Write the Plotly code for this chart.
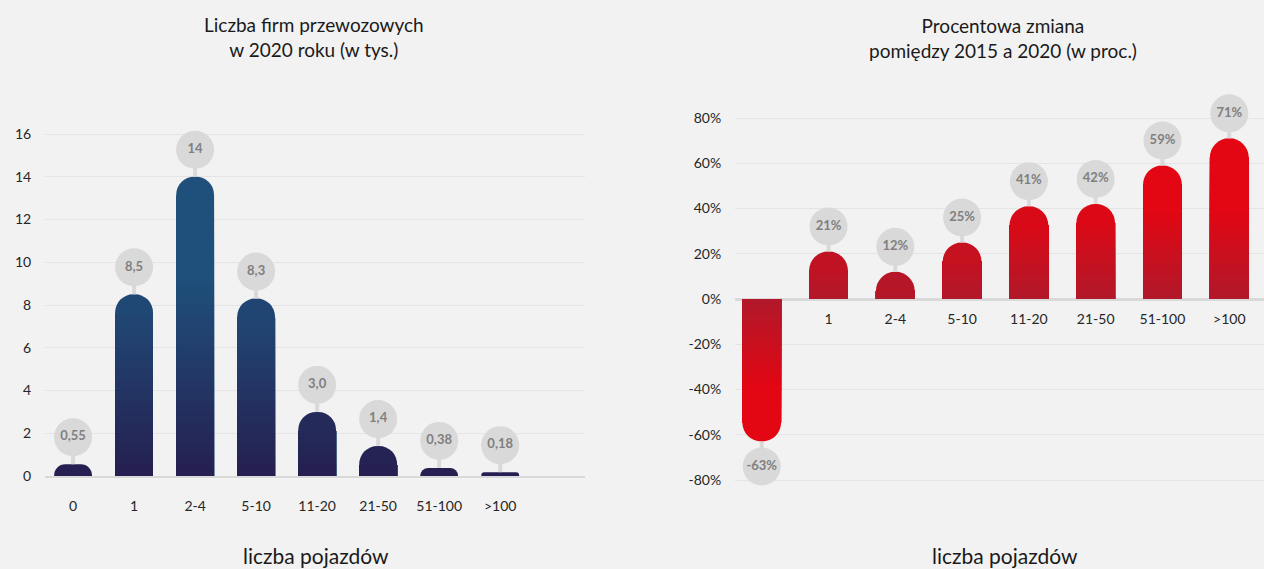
import math
import plotly.graph_objects as go

# ---------------- data ----------------
categories = ["0", "1", "2-4", "5-10", "11-20", "21-50", "51-100", ">100"]
firms_2020 = [0.55, 8.5, 14, 8.3, 3.0, 1.4, 0.38, 0.18]
firm_labels = ["0,55", "8,5", "14", "8,3", "3,0", "1,4", "0,38", "0,18"]
change_pct = [-63, 21, 12, 25, 41, 42, 59, 71]
change_labels = ["-63%", "21%", "12%", "25%", "41%", "42%", "59%", "71%"]
left_yticks = [0, 2, 4, 6, 8, 10, 12, 14, 16]
right_yticks = [-80, -60, -40, -20, 0, 20, 40, 60, 80]
right_yticklabels = ["-80%", "-60%", "-40%", "-20%", "0%", "20%", "40%", "60%", "80%"]

# ---------------- geometry / style ----------------
W, H = 1264, 569
FONT = "Lato, Open Sans, sans-serif"
BG = "#f2f2f2"
GRID = "#e4e4e4"
BUBBLE = "#d9d9d9"

# left panel (pixels)
L_X0, L_X1 = 45, 585
L_ZERO, L_PPU = 476, 21.375          # px of y=0 and px per unit
L_TOP = 96
L_XR = [-0.46, 8.39]
L_YR = [0, (L_ZERO - L_TOP) / L_PPU]

# right panel (pixels)
R_X0, R_X1 = 735, 1264
R_ZERO, R_PPU = 299, 2.2625
R_TOP, R_BOT = 84, 520
R_XR = [-0.4, 7.52]
R_YR = [-(R_BOT - R_ZERO) / R_PPU, (R_ZERO - R_TOP) / R_PPU]


def py(p):
    return 1 - p / H


def hex2rgb(h):
    h = h.lstrip("#")
    return tuple(int(h[i:i + 2], 16) for i in (0, 2, 4))


def grad(t, low, high, knee):
    t = max(0.0, min(1.0, t))
    f = 1.0 if t >= knee else t / knee
    a, b = hex2rgb(low), hex2rgb(high)
    c = [round(a[i] + (b[i] - a[i]) * f) for i in range(3)]
    return "rgb(%d,%d,%d)" % tuple(c)


RADIUS = 19
NB = 28

fig = go.Figure()


def add_bars(values, xa, ya, ppu, width, low, high, knee, vmax):
    r_units = RADIUS / ppu

    def band_t(h):
        k = min(NB, max(1, math.ceil(h / vmax * NB)))
        return (k - 0.5) / NB

    # rounded caps, coloured like the band right under them
    fig.add_trace(go.Bar(
        x=categories, y=values, width=width, xaxis=xa, yaxis=ya,
        marker=dict(color=[grad(band_t(abs(v) - r_units), low, high, knee) for v in values],
                    cornerradius=RADIUS, line=dict(width=0)),
        hoverinfo="skip", showlegend=False))
    # vertical gradient bands
    for k in range(NB, 0, -1):
        level = k / NB * vmax
        ys = []
        for v in values:
            m = max(0.0, min(abs(v) - r_units, level))
            ys.append(m if v >= 0 else -m)
        fig.add_trace(go.Bar(
            x=categories, y=ys, width=width, xaxis=xa, yaxis=ya,
            marker=dict(color=grad((k - 0.5) / NB, low, high, knee), line=dict(width=0)),
            hoverinfo="skip", showlegend=False))


def add_bubbles(values, labels, xa, ya, offset_px, ppu):
    off = offset_px / ppu
    ys = [v + off if v >= 0 else v - off for v in values]
    fig.add_trace(go.Scatter(
        x=categories, y=ys, xaxis=xa, yaxis=ya, mode="markers+text",
        text=labels, textposition="middle center",
        textfont=dict(family=FONT, size=13, color="#7f7f7f", weight="bold"),
        marker=dict(size=38, color=BUBBLE, line=dict(width=0)),
        error_y=dict(type="data", symmetric=False,
                     array=[0 if v >= 0 else off for v in values],
                     arrayminus=[off if v >= 0 else 0 for v in values],
                     color=BUBBLE, thickness=4, width=0),
        hoverinfo="skip", showlegend=False, cliponaxis=False))


add_bars(firms_2020, "x", "y", L_PPU, 0.62, "#251f50", "#1f4f7b", 0.65, 14)
add_bars(change_pct, "x2", "y2", R_PPU, 0.58, "#b0192b", "#e30613", 0.55, 71)
add_bubbles(firms_2020, firm_labels, "x", "y", 27, L_PPU)
add_bubbles(change_pct, change_labels, "x2", "y2", 25, R_PPU)

r_dom = [py(R_BOT), py(R_TOP)]
r_pos = r_dom[0] + (0 - R_YR[0]) / (R_YR[1] - R_YR[0]) * (r_dom[1] - r_dom[0])

tickfont = dict(family=FONT, size=14, color="#262626")

fig.update_layout(
    width=W, height=H,
    paper_bgcolor=BG, plot_bgcolor=BG,
    margin=dict(l=0, r=0, t=0, b=0, pad=0, autoexpand=False),
    barmode="overlay",
    font=dict(family=FONT),
    xaxis=dict(domain=[L_X0 / W, L_X1 / W], range=L_XR, type="category",
               anchor="y", showgrid=False, zeroline=False, automargin=False,
               showline=True, linecolor="#d9d9d9", linewidth=2,
               ticks="outside", ticklen=16, tickcolor="rgba(0,0,0,0)",
               tickfont=tickfont, fixedrange=True),
    yaxis=dict(domain=[py(L_ZERO), py(L_TOP)], range=L_YR, anchor="x",
               tickvals=left_yticks, showgrid=True, gridcolor=GRID, gridwidth=1,
               zeroline=False, showline=False, automargin=False,
               ticks="outside", ticklen=10, tickcolor="rgba(0,0,0,0)",
               tickfont=tickfont, fixedrange=True),
    xaxis2=dict(domain=[R_X0 / W, R_X1 / W], range=R_XR, type="category",
                anchor="free", position=r_pos, showgrid=False, zeroline=False,
                showline=False, layer="below traces", automargin=False,
                ticks="outside", ticklen=7, tickcolor="rgba(0,0,0,0)",
                tickfont=tickfont, fixedrange=True),
    yaxis2=dict(domain=r_dom, range=R_YR, anchor="x2",
                tickmode="array", tickvals=right_yticks, ticktext=right_yticklabels,
                showgrid=True, gridcolor=GRID, gridwidth=1,
                zeroline=True, zerolinecolor="#d9d9d9", zerolinewidth=3,
                showline=False, automargin=False,
                ticks="outside", ticklen=10, tickcolor="rgba(0,0,0,0)",
                tickfont=tickfont, fixedrange=True),
)

titles = [
    (314, 37, "Liczba firm przewozowych<br>w 2020 roku (w tys.)", 19),
    (1003, 38, "Procentowa zmiana<br>pomiędzy 2015 a 2020 (w proc.)", 19),
    (316, 555, "liczba pojazdów", 21),
    (1005, 555, "liczba pojazdów", 21),
]
for x, y, t, s in titles:
    fig.add_annotation(x=x / W, y=py(y), xref="paper", yref="paper",
                       text=t, showarrow=False, xanchor="center", yanchor="middle",
                       font=dict(family=FONT, size=s, color="#1a1a1a"))

post = """
var de = document.documentElement, b = document.body;
de.style.margin = '0'; de.style.padding = '0'; de.style.overflow = 'hidden';
b.style.margin = '0'; b.style.padding = '0'; b.style.overflow = 'hidden';
"""

fig.write_html("out.html", config={"displayModeBar": False}, post_script=post)
